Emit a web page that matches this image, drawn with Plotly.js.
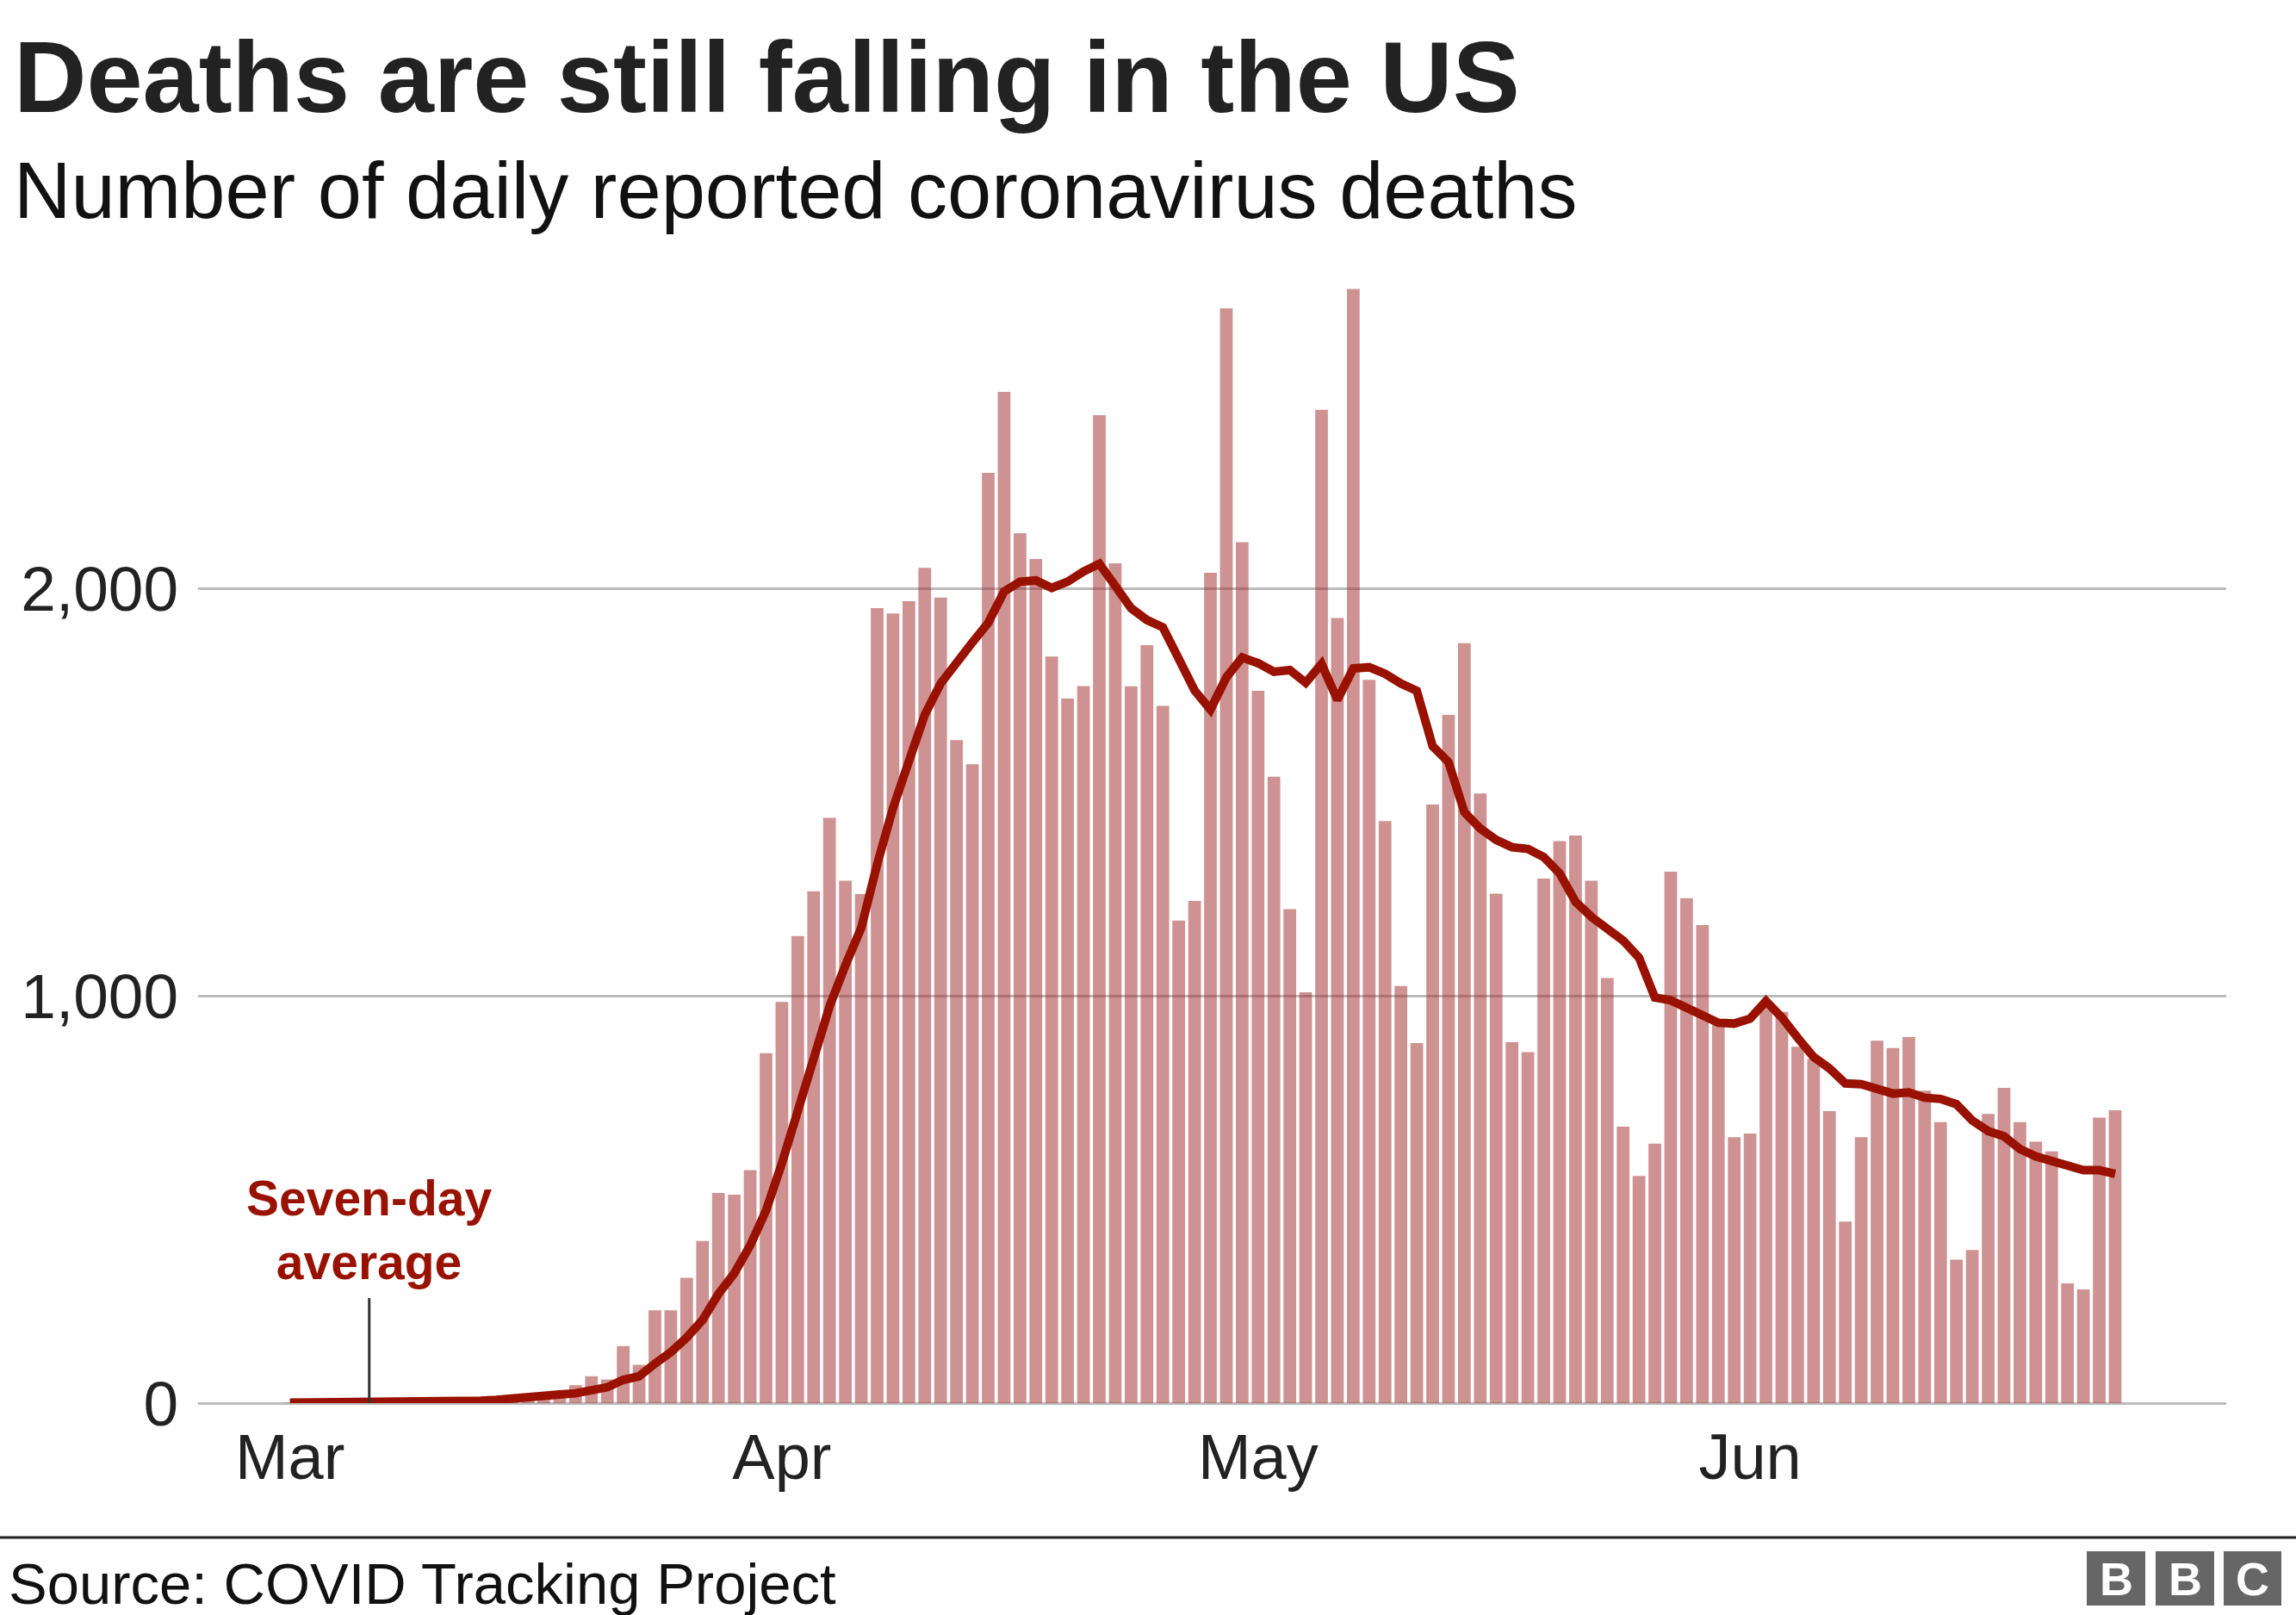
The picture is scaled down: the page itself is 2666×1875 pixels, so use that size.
<!DOCTYPE html>
<html>
<head>
<meta charset="utf-8">
<script src="https://cdn.plot.ly/plotly-3.0.1.min.js"></script>
<style>
    html, body { margin: 0; padding: 0; background: #ffffff; }
    #chart { width: 2666px; height: 1875px; }
</style>
</head>
<body>
<div id="chart"></div>
<script>
// daily reported deaths, one value per day from 1 March 2020
const startDate = "2020-03-01";
const dailyDeaths = [
    1, 2, 1, 3, 2, 3, 3, 4, 4, 5, 6, 7, 9, 12, 12, 18, 22, 30, 44, 66,
    58, 140, 94, 228, 228, 308, 398, 516, 512, 572, 859, 985, 1147, 1257, 1437, 1283, 1250, 1952, 1939, 1969,
    2051, 1978, 1628, 1569, 2284, 2483, 2136, 2073, 1833, 1730, 1761, 2426, 2062, 1760, 1861, 1712, 1185, 1233, 2039, 2688,
    2114, 1749, 1538, 1213, 1009, 2439, 1928, 2736, 1776, 1429, 1024, 884, 1470, 1690, 1866, 1497, 1251, 886, 862, 1288,
    1380, 1394, 1283, 1044, 679, 558, 637, 1305, 1240, 1174, 940, 653, 662, 975, 961, 875, 845, 717, 446, 653,
    890, 872, 899, 767, 690, 352, 376, 710, 774, 690, 642, 618, 294, 279, 701, 719,
];
const sevenDayAverage = [
    1, 1, 1, 1, 2, 2, 2, 3, 3, 3, 4, 5, 6, 8, 10, 13, 17, 21, 24, 31,
    39, 57, 66, 97, 125, 161, 204, 268, 319, 387, 473, 589, 717, 850, 974, 1075, 1167, 1323, 1461, 1576,
    1690, 1767, 1820, 1868, 1916, 1993, 2017, 2020, 2002, 2017, 2042, 2061, 2007, 1952, 1923, 1905, 1828, 1750, 1703, 1782,
    1831, 1817, 1796, 1800, 1769, 1815, 1727, 1804, 1807, 1791, 1767, 1749, 1613, 1574, 1451, 1411, 1383, 1365, 1361, 1341,
    1301, 1231, 1194, 1163, 1136, 1094, 996, 989, 969, 950, 934, 932, 944, 987, 947, 897, 850, 822, 785, 783,
    771, 760, 763, 750, 747, 734, 694, 668, 655, 624, 606, 594, 585, 572, 572, 563,
];
const monthTicks = ["2020-03-01", "2020-04-01", "2020-05-01", "2020-06-01"];
const monthLabels = ["Mar", "Apr", "May", "Jun"];
const yTicks = [0, 1000, 2000];
const yTickLabels = ["0", "1,000", "2,000"];


function buildDates(first, count) {
    const base = new Date(first + "T00:00:00Z");
    const dates = [];
    for (let i = 0; i < count; i++) {
        const day = new Date(base.getTime() + i * 86400000);
        dates.push(day.toISOString().slice(0, 10));
    }
    return dates;
}

// plot area in page pixels, used to place the text round the chart
const plotLeft = 230;
const plotRight = 2585;
const plotTop = 320;
const plotBottom = 1629;

function paperX(px) {
    return (px - plotLeft) / (plotRight - plotLeft);
}

function paperY(px) {
    return (plotBottom - px) / (plotBottom - plotTop);
}

const dates = buildDates(startDate, dailyDeaths.length);
const font = "\"Liberation Sans\", Arial, Helvetica, sans-serif";
const darkRed = "#991100";

const traces = [
    {
        type: "bar",
        x: dates,
        y: dailyDeaths,
        marker: { color: "rgba(157, 37, 37, 0.5)" },
        hoverinfo: "skip",
    },
    {
        type: "scatter",
        mode: "lines",
        x: dates,
        y: sevenDayAverage,
        line: { color: darkRed, width: 10 },
        hoverinfo: "skip",
    },
];

const logoBlocks = [[2423, 2491], [2503, 2571], [2582, 2649]];
const logoLetters = ["B", "B", "C"];

const shapes = [
    {
        type: "line", xref: "paper", yref: "paper",
        x0: paperX(0), x1: paperX(2666), y0: paperY(1785), y1: paperY(1785),
        line: { color: "#222222", width: 3 },
    },
    {
        type: "line", xref: "x", yref: "y",
        x0: "2020-03-06", x1: "2020-03-06", y0: 0, y1: 258,
        line: { color: "#333333", width: 3 },
    },
];
const annotations = [
    {
        text: "<b>Deaths are still falling in the US</b>",
        xref: "paper", yref: "paper", x: paperX(14), y: paperY(157),
        xanchor: "left", yanchor: "bottom", showarrow: false,
        font: { family: font, size: 117, color: "#222222" },
    },
    {
        text: "Number of daily reported coronavirus deaths",
        xref: "paper", yref: "paper", x: paperX(14), y: paperY(274),
        xanchor: "left", yanchor: "bottom", showarrow: false,
        font: { family: font, size: 92, color: "#111111" },
    },
    {
        text: "Source: COVID Tracking Project",
        xref: "paper", yref: "paper", x: paperX(8), y: paperY(1878),
        xanchor: "left", yanchor: "bottom", showarrow: false,
        font: { family: font, size: 67, color: "#111111" },
    },
    {
        text: "<b>Seven-day</b><br><b>average</b>",
        xref: "x", yref: "paper", x: "2020-03-06", y: paperY(1428),
        xanchor: "center", yanchor: "middle", align: "center", showarrow: false,
        font: { family: font, size: 57, color: darkRed },
    },
];

logoBlocks.forEach(([left, right], index) => {
    shapes.push({
        type: "rect", xref: "paper", yref: "paper",
        x0: paperX(left), x1: paperX(right), y0: paperY(1801), y1: paperY(1864),
        fillcolor: "#666666", line: { width: 0 },
    });
    annotations.push({
        text: "<b>" + logoLetters[index] + "</b>",
        xref: "paper", yref: "paper", x: paperX((left + right) / 2), y: paperY(1833),
        xanchor: "center", yanchor: "middle", showarrow: false,
        font: { family: font, size: 54, color: "#ffffff" },
    });
});

Plotly.newPlot(
    "chart",
    traces,
    {
        width: 2666,
        height: 1875,
        margin: { l: plotLeft, r: 2666 - plotRight, t: plotTop, b: 1875 - plotBottom, pad: 0 },
        paper_bgcolor: "#ffffff",
        plot_bgcolor: "#ffffff",
        showlegend: false,
        bargap: 0.2,
        font: { family: font, color: "#222222" },
        xaxis: {
            type: "date",
            range: ["2020-02-24 05:11", "2020-07-01 00:00"],
            tickvals: monthTicks,
            ticktext: monthLabels,
            showgrid: false,
            zeroline: false,
            showline: false,
            ticks: "",
            ticklabelstandoff: 13,
            tickfont: { family: font, size: 74, color: "#222222" },
            fixedrange: true,
        },
        yaxis: {
            range: [0, (plotBottom - plotTop) / 0.4728],
            tickvals: yTicks,
            ticktext: yTickLabels,
            showgrid: true,
            gridcolor: "#bbbbbb",
            gridwidth: 3,
            zeroline: true,
            zerolinecolor: "#bbbbbb",
            zerolinewidth: 3,
            showline: false,
            ticks: "",
            ticklabelstandoff: 22,
            tickfont: { family: font, size: 73, color: "#222222" },
            fixedrange: true,
        },
        shapes: shapes,
        annotations: annotations,
    },
    { displayModeBar: false, staticPlot: true },
);
</script>
</body>
</html>
